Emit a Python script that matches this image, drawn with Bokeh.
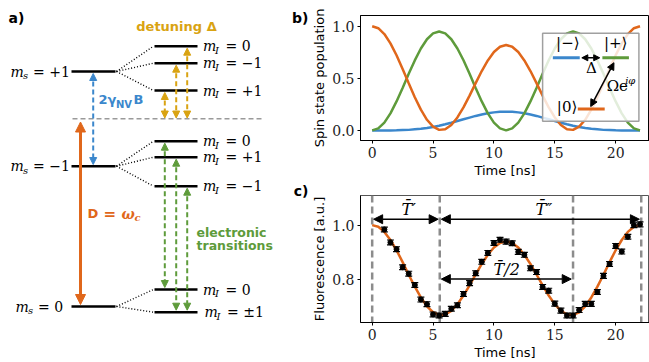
from bokeh.plotting import figure
from bokeh.layouts import row, column
from bokeh.models import Range1d, Arrow, NormalHead, FixedTicker, NumeralTickFormatter, Span
from bokeh.core.properties import value
from bokeh.embed import file_html
from bokeh.resources import INLINE

# ---------------- data ----------------
TIME = [0.0, 0.5, 1.0, 1.5, 2.0, 2.5, 3.0, 3.5, 4.0, 4.5, 5.0, 5.5, 6.0, 6.5, 7.0, 7.5,
        8.0, 8.5, 9.0, 9.5, 10.0, 10.5, 11.0, 11.5, 12.0, 12.5, 13.0, 13.5, 14.0, 14.5,
        15.0, 15.5, 16.0, 16.5, 17.0, 17.5, 18.0, 18.5, 19.0, 19.5, 20.0, 20.5, 21.0, 21.5, 22.0]
POP_ZERO = [1.0, 0.981, 0.925, 0.836, 0.721, 0.590, 0.452, 0.318, 0.199, 0.102, 0.036, 0.005,
            0.011, 0.052, 0.124, 0.221, 0.334, 0.454, 0.570, 0.672, 0.752, 0.803, 0.820,
            0.803, 0.752, 0.672, 0.570, 0.454, 0.334, 0.221, 0.124, 0.052, 0.011, 0.005,
            0.036, 0.102, 0.199, 0.318, 0.452, 0.590, 0.721, 0.836, 0.925, 0.981, 1.0]
POP_PLUS = [0.0, 0.019, 0.075, 0.164, 0.278, 0.407, 0.543, 0.672, 0.786, 0.875, 0.931, 0.950,
            0.931, 0.875, 0.786, 0.673, 0.543, 0.407, 0.278, 0.164, 0.075, 0.019, 0.0,
            0.019, 0.075, 0.164, 0.278, 0.407, 0.543, 0.673, 0.786, 0.875, 0.931, 0.950,
            0.931, 0.875, 0.786, 0.672, 0.543, 0.407, 0.278, 0.164, 0.075, 0.019, 0.0]
POP_MINUS = [0.0, 0.0, 0.0, 0.0, 0.001, 0.003, 0.005, 0.010, 0.015, 0.023, 0.033, 0.045,
             0.059, 0.074, 0.090, 0.107, 0.123, 0.139, 0.153, 0.164, 0.173, 0.178, 0.180,
             0.178, 0.173, 0.164, 0.153, 0.139, 0.123, 0.107, 0.090, 0.074, 0.059, 0.045,
             0.033, 0.023, 0.015, 0.010, 0.005, 0.003, 0.001, 0.0, 0.0, 0.0, 0.0]
FIT = [1.000, 0.994, 0.975, 0.945, 0.907, 0.863, 0.816, 0.772, 0.732, 0.699, 0.677, 0.667,
       0.669, 0.682, 0.707, 0.739, 0.777, 0.817, 0.856, 0.890, 0.917, 0.934, 0.940,
       0.934, 0.917, 0.890, 0.856, 0.817, 0.777, 0.739, 0.707, 0.682, 0.669, 0.667,
       0.677, 0.699, 0.732, 0.772, 0.816, 0.863, 0.907, 0.945, 0.975, 0.994, 1.000]
T_MEAS = [1.0, 1.5, 2.0, 2.5, 3.0, 3.5, 4.0, 4.5, 5.0, 5.5, 6.0, 6.5, 7.0, 7.5, 8.0, 8.5,
          9.0, 9.5, 10.0, 10.5, 11.0, 11.5, 12.0, 12.5, 13.0, 13.5, 14.0, 14.5, 15.0, 15.5,
          16.0, 16.5, 17.0, 17.5, 18.0, 18.5, 19.0, 19.5, 20.0, 20.5, 21.0, 21.5, 22.0]
F_MEAS = [0.984, 0.936, 0.911, 0.844, 0.820, 0.778, 0.724, 0.707, 0.669, 0.665, 0.671, 0.690,
          0.703, 0.745, 0.785, 0.822, 0.864, 0.897, 0.934, 0.946, 0.939, 0.933, 0.901, 0.890,
          0.840, 0.826, 0.771, 0.757, 0.709, 0.683, 0.665, 0.665, 0.685, 0.708, 0.708, 0.752,
          0.812, 0.856, 0.923, 0.902, 0.957, 1.000, 1.003]
F_ERR = 0.009
PERIOD_MARKS = [0.0, 5.55, 16.5, 22.1]
X_TICKS = [0, 5, 10, 15, 20]
B_YTICKS = [0.0, 0.5, 1.0]
C_YTICKS = [0.8, 1.0]

# ---------------- style ----------------
ORANGE = "#e0671b"
GREEN = "#5e9b3b"
BLUE = "#3b87cc"
YELLOW = "#d9a312"
GRAY = "#8c8c8c"
SERIF = "DejaVu Serif"
SANS = "DejaVu Sans"


def txt(p, x, y, s, size, color="black", font=SERIF, style="normal", align="left", baseline="middle"):
    p.text(x=[x], y=[y], text=[s], text_font=value(font), text_font_size=f"{size}px",
           text_font_style=style, text_color=color, text_align=align, text_baseline=baseline)


def arrow(p, x0, y0, x1, y1, color, width=2, dash="solid", head=7):
    p.add_layout(Arrow(x_start=x0, y_start=y0, x_end=x1, y_end=y1,
                       line_color=color, line_width=width, line_dash=dash,
                       start=NormalHead(size=head, fill_color=color, line_color=color, line_width=1),
                       end=NormalHead(size=head, fill_color=color, line_color=color, line_width=1)))


# ---------------- panel a (diagram, pixel-like coords) ----------------
pa = figure(width=309, height=362, x_range=Range1d(0, 309), y_range=Range1d(362, 0),
            output_backend="svg", toolbar_location=None, min_border=0,
            x_axis_location=None, y_axis_location=None)
pa.grid.visible = False
pa.outline_line_color = None

spin_levels = [71, 165.7, 306]
sub_levels = [[45.7, 62.7, 90], [140.7, 156.7, 185.7], [289, 311.7]]
pa.segment(x0=[71] * 3, y0=spin_levels, x1=[115] * 3, y1=spin_levels, line_color="black", line_width=2.5)
for lv, subs in zip(spin_levels, sub_levels):
    pa.segment(x0=[154] * len(subs), y0=subs, x1=[197] * len(subs), y1=subs, line_color="black", line_width=2.5)
    pa.segment(x0=[116] * len(subs), y0=[lv] * len(subs), x1=[153] * len(subs), y1=subs,
               line_color="black", line_width=1.4, line_dash="1 2")

# gray dashed reference line
pa.segment(x0=[72], y0=[118.3], x1=[262], y1=[118.3], line_color="#9a9a9a", line_width=1.5, line_dash="5 3")

# spin level labels
for (xm, y, rest) in [(10, 71, "= +1"), (10, 165.7, "= \u22121"), (15, 306, "= 0")]:
    txt(pa, xm, y, "m", 14, style="italic")
    txt(pa, xm + 12.5, y + 4, "s", 10, style="italic")
    txt(pa, xm + 22.5, y, rest, 14)
# nuclear sublevel labels
for (xm, y, rest) in [(202.5, 45.7, "= 0"), (202.5, 62.7, "= \u22121"), (202.5, 90, "= +1"),
                      (202.5, 140.7, "= 0"), (202.5, 156.7, "= +1"), (202.5, 185.7, "= \u22121"),
                      (202.5, 289, "= 0"), (204, 311.7, "= \u00b11")]:
    txt(pa, xm, y, "m", 14, style="italic")
    txt(pa, xm + 12, y + 4, "I", 10, style="italic")
    txt(pa, xm + 22.5, y, rest, 14)

# arrows
arrow(pa, 92.7, 73, 92.7, 164, BLUE, width=2, dash="5 3", head=7)
arrow(pa, 80, 121.5, 80, 304, ORANGE, width=3, dash="solid", head=10)
for xa, ytop in [(164.3, 90), (175.7, 62.7), (186.7, 45.7)]:
    arrow(pa, xa, ytop + 2, xa, 117.5, YELLOW, width=2, dash="5 3", head=7)
for xa, ytop, ybot in [(164.3, 140.7, 289), (175.7, 156.7, 311.7), (186.7, 185.7, 311.7)]:
    arrow(pa, xa, ytop + 2, xa, ybot - 2, GREEN, width=2, dash="5 3", head=7)

# annotations
txt(pa, 8, 17, "a)", 14, font=SANS, style="bold")
txt(pa, 308, 17, "b)", 14, font=SANS, style="bold", align="right")
txt(pa, 308, 190, "c)", 14, font=SANS, style="bold", align="right")
txt(pa, 176, 26, "detuning \u0394", 13, color=YELLOW, font=SANS, style="bold", align="center")
txt(pa, 98, 99, "2\u03b3", 13, color=BLUE, font=SANS, style="bold")
txt(pa, 115.5, 104, "NV", 10, color=BLUE, font=SANS, style="bold")
txt(pa, 133, 99, "B", 13, color=BLUE, font=SANS, style="bold")
txt(pa, 87, 213, "D", 13, color=ORANGE, font=SANS, style="bold")
txt(pa, 103, 213, "=", 15, color=ORANGE, font=SANS, style="bold")
txt(pa, 121, 213, "\u03c9", 14, color=ORANGE, font=SERIF, style="bold italic")
txt(pa, 134, 217, "c", 10, color=ORANGE, font=SERIF, style="bold italic")
txt(pa, 196, 231.7, "electronic", 12.5, color=GREEN, font=SANS, style="bold")
txt(pa, 196, 245, "transitions", 12.5, color=GREEN, font=SANS, style="bold")


# ---------------- common axis style ----------------
def style_axes(p, yticks):
    p.grid.visible = False
    p.xaxis.ticker = FixedTicker(ticks=X_TICKS)
    p.yaxis.ticker = FixedTicker(ticks=yticks)
    p.yaxis.formatter = NumeralTickFormatter(format="0.0")
    for ax in (p.xaxis[0], p.yaxis[0]):
        ax.major_tick_in = 0
        ax.major_tick_out = 3
        ax.minor_tick_line_color = None
        ax.axis_line_color = "black"
        ax.major_tick_line_color = "black"
        ax.major_label_text_font = SERIF
        ax.major_label_text_font_size = "14px"
        ax.major_label_text_color = "#222222"
        ax.major_label_standoff = 3
        ax.axis_label_text_font = SANS
        ax.axis_label_text_font_size = "13px"
        ax.axis_label_text_font_style = "normal"
        ax.axis_label_text_color = "black"
        ax.axis_label_standoff = 2
    p.outline_line_color = "black"
    p.outline_line_width = 1


# ---------------- panel b ----------------
pb = figure(width=340, height=180, x_range=Range1d(-0.96, 22.78), y_range=Range1d(-0.097, 1.103),
            output_backend="svg", toolbar_location=None,
            min_border_left=50, min_border_right=0, min_border_top=15, min_border_bottom=37)
style_axes(pb, B_YTICKS)
pb.xaxis.axis_label = "Time [ns]"
pb.yaxis.axis_label = "Spin state population"

pb.line(TIME, POP_MINUS, line_color=BLUE, line_width=2.5)
pb.line(TIME, POP_PLUS, line_color=GREEN, line_width=2.5)
pb.line(TIME, POP_ZERO, line_color=ORANGE, line_width=2.5)

# inset level scheme
pb.quad(left=[14.0], right=[21.91], bottom=[0.088], top=[0.932], fill_color="white", fill_alpha=0.82,
        line_color="#a0a0a0", line_width=1.5)
pb.segment(x0=[14.84, 18.91, 16.89], y0=[0.697, 0.697, 0.206], x1=[17.05, 21.09, 19.10],
           y1=[0.697, 0.697, 0.206], line_color=[BLUE, GREEN, ORANGE], line_width=3)
arrow(pb, 17.22, 0.697, 18.69, 0.697, "black", width=1.5, head=6)
arrow(pb, 17.95, 0.229, 19.86, 0.650, "black", width=1.5, head=7)
txt(pb, 16.07, 0.84, "|\u2212\u27e9", 15, align="center")
txt(pb, 20.0, 0.84, "|+\u27e9", 15, align="center")
txt(pb, 16.85, 0.222, "|0\u27e9", 15, align="right")
txt(pb, 18.01, 0.595, "\u0394", 15, align="center")
txt(pb, 19.26, 0.425, "\u03a9e", 15)
txt(pb, 20.78, 0.48, "i\u03c6", 10, style="italic")

# ---------------- panel c ----------------
pc = figure(width=340, height=182, x_range=Range1d(-0.96, 22.78), y_range=Range1d(0.639, 1.11),
            output_backend="svg", toolbar_location=None,
            min_border_left=50, min_border_right=0, min_border_top=15, min_border_bottom=39)
style_axes(pc, C_YTICKS)
pc.outline_line_color = "#555555"
pc.xaxis.axis_label = "Time [ns]"
pc.yaxis.axis_label = "Fluorescence [a.u.]"

for xm in PERIOD_MARKS:
    pc.add_layout(Span(location=xm, dimension="height", line_color=GRAY, line_width=2.5,
                       line_dash="7 4", level="underlay"))

pc.line(TIME, FIT, line_color=ORANGE, line_width=2.5)
lo = [f - F_ERR for f in F_MEAS]
hi = [f + F_ERR for f in F_MEAS]
pc.segment(x0=T_MEAS, y0=lo, x1=T_MEAS, y1=hi, line_color="black", line_width=1.2)
pc.scatter(T_MEAS, lo, marker="dash", size=7, line_color="black", line_width=1.2)
pc.scatter(T_MEAS, hi, marker="dash", size=7, line_color="black", line_width=1.2)
pc.scatter(T_MEAS, F_MEAS, size=5, fill_color="black", line_color="black")

arrow(pc, 0.12, 1.022, 5.42, 1.022, "black", width=1.5, head=9)
arrow(pc, 5.68, 1.022, 21.95, 1.022, "black", width=1.5, head=9)
arrow(pc, 5.68, 0.80, 16.35, 0.80, "black", width=1.5, head=9)
txt(pc, 3.0, 1.058, "T\u0304\u2032", 16, style="italic", align="center")
txt(pc, 14.1, 1.058, "T\u0304\u2033", 16, style="italic", align="center")
txt(pc, 11.05, 0.834, "T\u0304/2", 16, style="italic", align="center")

layout = row(pa, column(pb, pc))
open("out.html", "w").write(file_html(layout, INLINE))
